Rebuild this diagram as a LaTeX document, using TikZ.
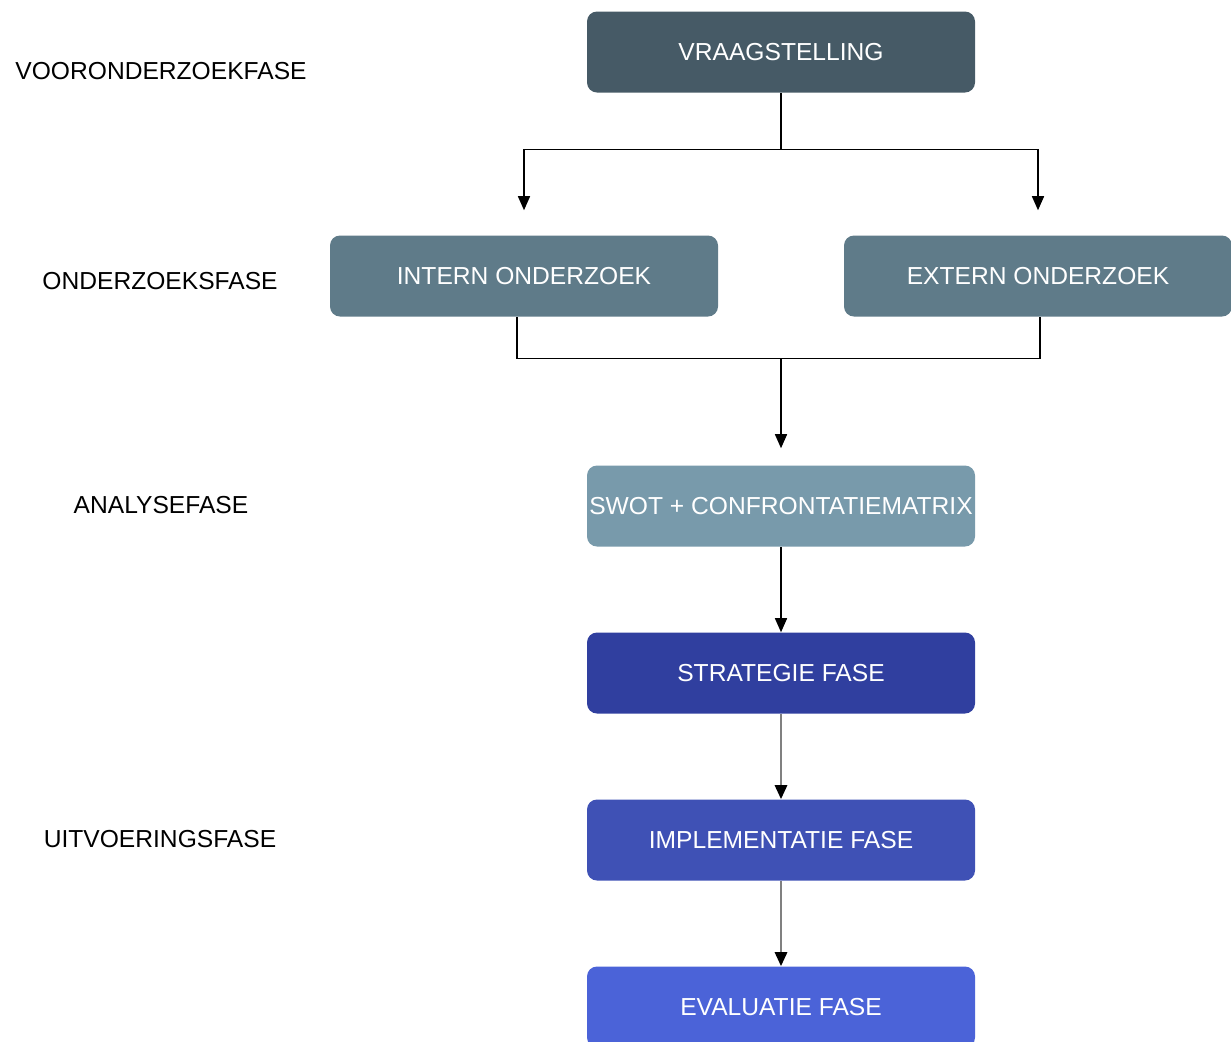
\documentclass[tikz,border=0pt]{standalone}
\usepackage{fontspec}
\setmainfont{Liberation Sans}
\usetikzlibrary{shapes,arrows.meta,positioning}

\definecolor{vraagc}{HTML}{465A66}
\definecolor{onderc}{HTML}{5F7B89}
\definecolor{swotc}{HTML}{789AAB}
\definecolor{stratc}{HTML}{303F9F}
\definecolor{implc}{HTML}{3F51B5}
\definecolor{evalc}{HTML}{4B63D8}

\begin{document}
\begin{tikzpicture}[%
	every node/.style={font=\fontsize{17.5}{21}\selectfont},
	>={Triangle[length=3.5mm,width=3mm]}, % filled heads as in the plan
	node distance=4.175cm,               % step between the phase boxes
	]
	% -------------------------------------------------
	% Box and line styles
	\tikzset{
		box/.style={rectangle, rounded corners=2.5mm, on grid, text=white,
			inner xsep=0pt, minimum width=9.7cm, minimum height=2.025cm, align=center},
		phase/.style={text=black},
		norm/.style={->, draw, line width=1pt},
		soft/.style={draw=gray, line width=2pt,
			-{Triangle[length=3.5mm,width=3mm,color=black]}},
		% coord style for the corners of the connecting lines
		coord/.style={coordinate, on grid},
	}
	\useasboundingbox (0,0) rectangle (30.775,-26.025);

	% phase names on the left
	\node[phase] (pvoor)  at (4.025,-1.775)  {VOORONDERZOEKFASE};
	\node[phase] (ponder) at (4.0,-7.025)    {ONDERZOEKSFASE};
	\node[phase] (panal)  at (4.025,-12.625) {ANALYSEFASE};
	\node[phase] (puitv)  at (4.0,-20.975)   {UITVOERINGSFASE};

	% the boxes
	\node[box, fill=vraagc]						(vraag)		at (19.525,-1.3) {VRAAGSTELLING};
	\node[box, fill=onderc, below left=5.6cm and 6.425cm of vraag]	(intern)	{INTERN ONDERZOEK};
	\node[box, fill=onderc, below right=5.6cm and 6.425cm of vraag]	(extern)	{EXTERN ONDERZOEK};
	\node[box, fill=swotc, below=11.35cm of vraag]	(swot)		{SWOT + CONFRONTATIEMATRIX};
	\node[box, fill=stratc, below=of swot]			(strat)		{STRATEGIE FASE};
	\node[box, fill=implc, below=of strat]			(impl)		{IMPLEMENTATIE FASE};
	\node[box, fill=evalc, below=of impl]			(eval)		{EVALUATIE FASE};

	% corners of the split and the join
	\coordinate[below=1.425cm of vraag.south] (split);
	\coordinate[above=6.25mm of intern.north] (iin);
	\coordinate[above=6.25mm of extern.north] (ein);
	\coordinate[below left=1.05cm and 1.75mm of intern.south] (ijoin);
	\coordinate[below right=1.05cm and 0.5mm of extern.south] (ejoin);
	\coordinate[above=4.25mm of swot.north] (sin);

	\draw[line width=1pt] (vraag.south) -- (split);
	\draw[norm] (split) -| (iin);
	\draw[norm] (split) -| (ein);

	\draw[line width=1pt] (ijoin |- intern.south) -- (ijoin) -- (ejoin) -- (ejoin |- extern.south);
	\draw[norm] (ijoin -| swot.north) -- (sin);

	\draw[norm] (swot) -- (strat);
	\draw[soft] (strat) -- (impl);
	\draw[soft] (impl) -- (eval);

\end{tikzpicture}
\end{document}
